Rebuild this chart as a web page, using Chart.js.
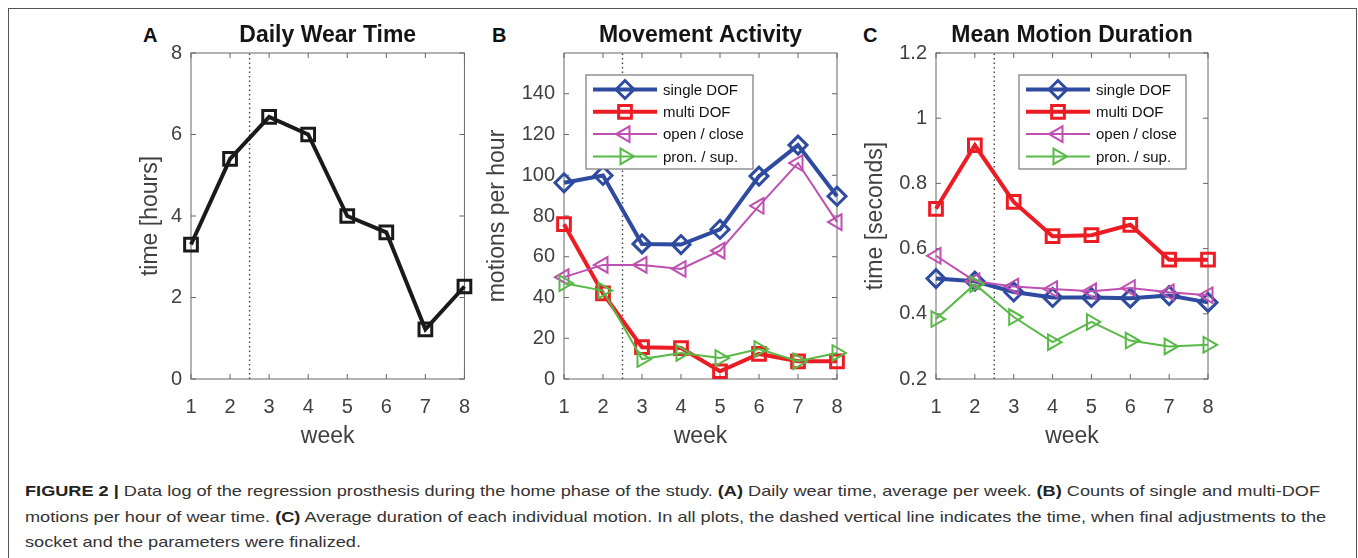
<!DOCTYPE html>
<html>
<head>
<meta charset="utf-8">
<script src="https://cdn.jsdelivr.net/npm/chart.js@4.4.0/dist/chart.umd.min.js"></script>
<style>
  body { margin: 0; background: #fff; width: 1358px; height: 558px; overflow: hidden; position: relative; font-family: "Liberation Sans", Arial, sans-serif; }
  .frame { position: absolute; left: 8px; top: 8px; width: 1347px; height: 600px; border: 1.5px solid #555; border-bottom: none; }
  .panel { position: absolute; top: 15px; height: 440px; }
  .letter { position: absolute; font-weight: bold; font-size: 20px; color: #111; top: 24px; }
  .caption { position: absolute; left: 25px; top: 478px; font-size: 15px; line-height: 25.5px; color: #333; white-space: nowrap; transform: scaleX(1.21); transform-origin: left top; }
  .caption b { color: #222; }
</style>
</head>
<body>
<div class="frame"></div>
<div class="letter" style="left:143px">A</div>
<div class="letter" style="left:492px">B</div>
<div class="letter" style="left:863px">C</div>
<div class="panel" style="left:100px;width:386px"><canvas id="chartA"></canvas></div>
<div class="panel" style="left:470px;width:390px"><canvas id="chartB"></canvas></div>
<div class="panel" style="left:840px;width:390px"><canvas id="chartC"></canvas></div>
<div class="caption"><b>FIGURE 2 |</b> Data log of the regression prosthesis during the home phase of the study. <b>(A)</b> Daily wear time, average per week. <b>(B)</b> Counts of single and multi-DOF<br>motions per hour of wear time. <b>(C)</b> Average duration of each individual motion. In all plots, the dashed vertical line indicates the time, when final adjustments to the<br>socket and the parameters were finalized.</div>
<script>
const weeks = [1, 2, 3, 4, 5, 6, 7, 8];
const adjustWeek = 2.5;

// A - daily wear time (hours)
const wearTime = [3.3, 5.4, 6.43, 6.0, 4.0, 3.6, 1.22, 2.27];

// B - motions per hour
const countSingle = [96.3, 99.9, 66.3, 66.0, 73.4, 99.6, 114.8, 89.7];
const countMulti = [76, 42, 15.6, 15.2, 3.8, 12.3, 8.7, 8.7];
const countOpen = [50, 56, 56, 54, 63, 85, 106, 77];
const countPron = [47, 43.4, 9.8, 12.8, 10.3, 14.7, 8.7, 12.8];

// C - mean motion duration (seconds)
const durSingle = [0.508, 0.5, 0.467, 0.45, 0.45, 0.448, 0.456, 0.435];
const durMulti = [0.722, 0.917, 0.743, 0.638, 0.641, 0.673, 0.566, 0.566];
const durOpen = [0.578, 0.5, 0.484, 0.476, 0.469, 0.479, 0.466, 0.457];
const durPron = [0.384, 0.491, 0.39, 0.313, 0.375, 0.318, 0.3, 0.305];

const FONT = '"Liberation Sans", Arial, sans-serif';
const BLUE = '#2e4b9f', RED = '#ec1c24', PINK = '#bf4fb1', GREEN = '#58b947';

const pts = vals => weeks.map((w, i) => ({x: w, y: vals[i]}));

function series(label, vals, color, style, rot, thick, order) {
  return {
    label: label, data: pts(vals), borderColor: color, backgroundColor: 'rgba(0,0,0,0)',
    borderWidth: thick ? 4 : 2, pointStyle: style, pointRotation: rot,
    pointRadius: 9, pointBorderWidth: thick ? 3 : 2,
    pointBackgroundColor: 'rgba(0,0,0,0)', pointBorderColor: color,
    tension: 0, clip: false, order: order
  };
}

function dotted(ymin, ymax) {
  return {
    data: [{x: adjustWeek, y: ymin}, {x: adjustWeek, y: ymax}],
    borderColor: '#444', borderWidth: 1.4, borderDash: [1.5, 3], pointRadius: 0, order: 10
  };
}

// box + inward ticks like matlab axes
const axesBox = {
  id: 'axesBox',
  beforeDatasetsDraw(chart) {
    const ctx = chart.ctx, a = chart.chartArea;
    ctx.save();
    ctx.strokeStyle = '#666';
    ctx.lineWidth = 1;
    ctx.strokeRect(a.left, a.top, a.right - a.left, a.bottom - a.top);
    const len = 5;
    chart.scales.x.ticks.forEach(t => {
      const px = chart.scales.x.getPixelForValue(t.value);
      ctx.beginPath();
      ctx.moveTo(px, a.bottom); ctx.lineTo(px, a.bottom - len);
      ctx.moveTo(px, a.top); ctx.lineTo(px, a.top + len);
      ctx.stroke();
    });
    chart.scales.y.ticks.forEach(t => {
      const py = chart.scales.y.getPixelForValue(t.value);
      ctx.beginPath();
      ctx.moveTo(a.left, py); ctx.lineTo(a.left + len, py);
      ctx.moveTo(a.right, py); ctx.lineTo(a.right - len, py);
      ctx.stroke();
    });
    ctx.restore();
  }
};

// legend box drawn inside the plot area
const boxLegend = {
  id: 'boxLegend',
  afterDraw(chart, args, opts) {
    if (!opts || !opts.show) return;
    const ctx = chart.ctx, a = chart.chartArea;
    const x0 = a.left + opts.x, y0 = a.top + opts.y;
    ctx.save();
    ctx.fillStyle = '#fff';
    ctx.fillRect(x0, y0, 167, 94);
    ctx.strokeStyle = '#777';
    ctx.lineWidth = 1.2;
    ctx.strokeRect(x0, y0, 167, 94);
    const items = chart.data.datasets.filter(d => d.label);
    items.forEach((d, i) => {
      const cy = y0 + 14.5 + i * 22.3;
      ctx.strokeStyle = d.borderColor;
      ctx.lineWidth = d.borderWidth;
      ctx.setLineDash([]);
      ctx.beginPath();
      ctx.moveTo(x0 + 7, cy); ctx.lineTo(x0 + 71, cy);
      ctx.stroke();
      ctx.lineWidth = d.pointBorderWidth;
      ctx.fillStyle = 'rgba(0,0,0,0)';
      Chart.helpers.drawPoint(ctx, {pointStyle: d.pointStyle, rotation: d.pointRotation, radius: d.pointRadius, borderWidth: d.pointBorderWidth}, x0 + 39, cy);
      ctx.fillStyle = '#111';
      ctx.font = '15px ' + FONT;
      ctx.textBaseline = 'middle';
      ctx.textAlign = 'left';
      ctx.fillText(d.label, x0 + 77, cy + 1);
    });
    ctx.restore();
  }
};

function makeChart(id, cfg) {
  return new Chart(document.getElementById(id), {
    type: 'line',
    data: {datasets: cfg.datasets},
    options: {
      responsive: true, maintainAspectRatio: false, animation: false,
      layout: {padding: {left: 0, right: cfg.rightPad, top: 0, bottom: 0}},
      plugins: {
        legend: {display: false},
        tooltip: {enabled: false},
        title: {
          display: true, text: cfg.title, fullSize: false, color: '#151515',
          font: {family: FONT, size: 23, weight: 'bold'}, padding: {top: 7, bottom: 3.4}
        },
        boxLegend: cfg.legend || {show: false}
      },
      scales: {
        x: {
          type: 'linear', min: 1, max: 8,
          afterFit: s => { s.height = 76; },
          grid: {display: false, drawTicks: false}, border: {display: false},
          ticks: {stepSize: 1, padding: 16, color: '#404040', font: {family: FONT, size: 20}},
          title: {display: true, text: 'week', color: '#404040', font: {family: FONT, size: 23}, padding: {top: 0, bottom: 5}}
        },
        y: {
          min: cfg.ymin, max: cfg.ymax,
          afterFit: s => { s.width = cfg.yWidth; },
          grid: {display: false, drawTicks: false}, border: {display: false},
          ticks: {stepSize: cfg.step, padding: 9, color: '#404040', font: {family: FONT, size: 20}, callback: cfg.tickFmt},
          title: {display: true, text: cfg.ytitle, color: '#404040', font: {family: FONT, size: 23}, padding: {top: cfg.ytPad, bottom: 0}}
        }
      }
    },
    plugins: [axesBox, boxLegend]
  });
}

makeChart('chartA', {
  title: 'Daily Wear Time', ytitle: 'time [hours]', ymin: 0, ymax: 8, step: 2,
  yWidth: 91, rightPad: 10, ytPad: 37,
  tickFmt: v => String(v),
  datasets: [
    {data: pts(wearTime), borderColor: '#1a1a1a', borderWidth: 4, pointStyle: 'rect', pointRadius: 9,
     pointBorderWidth: 3, pointBackgroundColor: 'rgba(0,0,0,0)', pointBorderColor: '#1a1a1a', clip: false, order: 1},
    dotted(0, 8)
  ]
});

makeChart('chartB', {
  title: 'Movement Activity', ytitle: 'motions per hour', ymin: 0, ymax: 160, step: 20,
  yWidth: 94, rightPad: 23, ytPad: 14,
  tickFmt: v => (v >= 160 ? null : String(v)),
  legend: {show: true, x: 22, y: 22},
  datasets: [
    series('single DOF', countSingle, BLUE, 'rectRot', 0, true, 4),
    series('multi DOF', countMulti, RED, 'rect', 0, true, 3),
    series('open / close', countOpen, PINK, 'triangle', -90, false, 2),
    series('pron. / sup.', countPron, GREEN, 'triangle', 90, false, 1),
    dotted(0, 160)
  ]
});

makeChart('chartC', {
  title: 'Mean Motion Duration', ytitle: 'time [seconds]', ymin: 0.2, ymax: 1.2, step: 0.2,
  yWidth: 96, rightPad: 22, ytPad: 22,
  tickFmt: v => String(+v.toFixed(2)),
  legend: {show: true, x: 83, y: 22},
  datasets: [
    series('single DOF', durSingle, BLUE, 'rectRot', 0, true, 4),
    series('multi DOF', durMulti, RED, 'rect', 0, true, 3),
    series('open / close', durOpen, PINK, 'triangle', -90, false, 2),
    series('pron. / sup.', durPron, GREEN, 'triangle', 90, false, 1),
    dotted(0.2, 1.2)
  ]
});
</script>
</body>
</html>
